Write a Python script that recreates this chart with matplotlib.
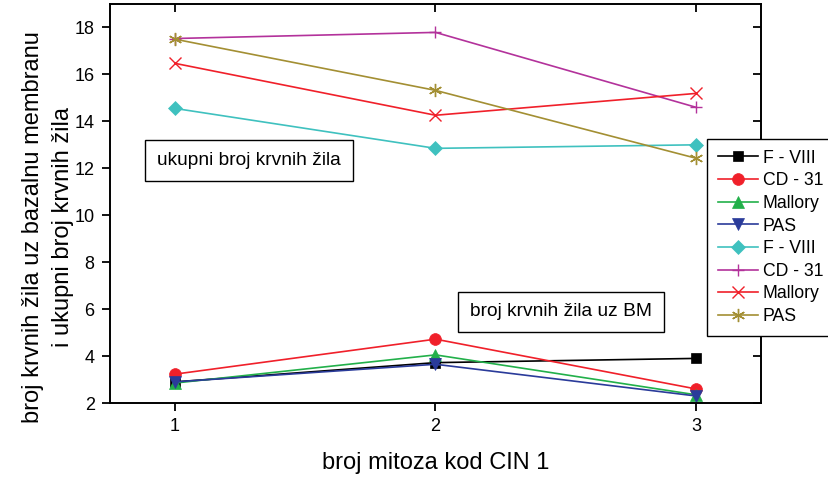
import matplotlib
matplotlib.use("Agg")
import matplotlib.pyplot as plt

plt.rcParams['font.family'] = ['Liberation Sans', 'DejaVu Sans']

x = [1, 2, 3]
labels = ["F - VIII", "CD - 31", "Mallory", "PAS", "F - VIII", "CD - 31", "Mallory", "PAS"]
fviii_bm = [2.9, 3.72, 3.9]
cd31_bm = [3.23, 4.72, 2.6]
mallory_bm = [2.85, 4.05, 2.35]
pas_bm = [2.9, 3.65, 2.3]
fviii_tot = [14.55, 12.85, 13.0]
cd31_tot = [17.53, 17.79, 14.6]
mallory_tot = [16.47, 14.26, 15.19]
pas_tot = [17.5, 15.32, 12.43]

series = [fviii_bm, cd31_bm, mallory_bm, pas_bm, fviii_tot, cd31_tot, mallory_tot, pas_tot]
colors = ["#000000", "#f0202a", "#22b04a", "#2a3b9a", "#3fc1bf", "#b3329b", "#f0202a", "#a38f33"]
markers = ["s", "o", "^", "v", "D", "+", "x", (6, 2, 0)]
msizes = [7.5, 8.5, 8.5, 8.5, 7.5, 8.5, 8.5, 9.5]

fig = plt.figure(figsize=(8.29, 4.78), dpi=100)
ax = fig.add_axes([110/829, 75/478, (761-110)/829, (403-4)/478])

handles = []
for ys, c, m, ms, lab in zip(series, colors, markers, msizes, labels):
    h, = ax.plot(x, ys, color=c, marker=m, markersize=ms, linewidth=1.2,
                 markeredgewidth=1.0 if m in ("+", "x", (6, 2, 0)) else 0.5,
                 markeredgecolor=c, markerfacecolor=c, label=lab)
    handles.append(h)

ax.set_xlim(0.75, 3.25)
ax.set_ylim(2, 19)
ax.set_xticks([1, 2, 3])
ax.set_yticks(range(2, 19, 2))
ax.tick_params(axis='both', labelsize=13, length=6, width=1.3, direction='out', pad=5)
ax.tick_params(top=True, right=True)
for sp in ax.spines.values():
    sp.set_linewidth(1.4)
# inward ticks on top/right
for t in ax.xaxis.get_major_ticks():
    t.tick2line.set_marker(3)
for t in ax.yaxis.get_major_ticks():
    t.tick2line.set_marker(0)

ax.set_xlabel("broj mitoza kod CIN 1", fontsize=17, labelpad=12)
ax.set_ylabel("broj krvnih žila uz bazalnu membranu\ni ukupni broj krvnih žila", fontsize=17,
              linespacing=1.5)
ax.yaxis.set_label_coords(-0.055, 0.44)

bbox = dict(boxstyle='square,pad=0.62', facecolor='white', edgecolor='black', linewidth=1.0)
ax.text(1.284, 12.32, "ukupni broj krvnih žila", fontsize=13.8, ha='center', va='center', bbox=bbox)
ax.text(2.482, 5.88, "broj krvnih žila uz BM", fontsize=13.8, ha='center', va='center', bbox=bbox)

leg = fig.legend(handles=handles, loc='upper left', bbox_to_anchor=(707/829, 1 - 139/478),
                 fontsize=12.7, frameon=True, fancybox=False, framealpha=1, edgecolor='black',
                 handlelength=2.3, labelspacing=0.32, borderpad=0.6, handletextpad=0.25,
                 borderaxespad=0)
leg.get_frame().set_linewidth(1.0)

fig.savefig("out.png", dpi=100)
